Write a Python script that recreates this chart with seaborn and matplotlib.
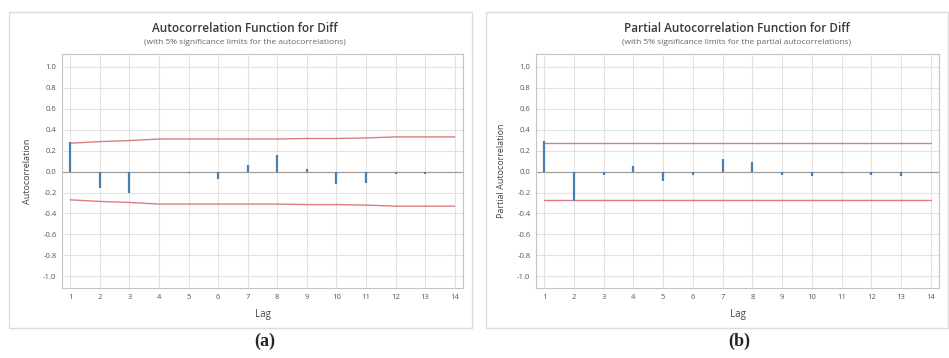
import numpy as np
import pandas as pd
import matplotlib.pyplot as plt
import seaborn as sns
from matplotlib.patches import Rectangle

# data
lags = list(range(1, 14))
acf_vals = [0.28, -0.16, -0.20, -0.005, -0.01, -0.07, 0.06, 0.16, 0.02, -0.12, -0.11, -0.02, -0.02]
pacf_vals = [0.29, -0.28, -0.03, 0.05, -0.09, -0.03, 0.12, 0.09, -0.03, -0.04, -0.01, -0.03, -0.04]
limit_lags = list(range(1, 15))
acf_limits = [0.27, 0.285, 0.295, 0.31, 0.31, 0.31, 0.31, 0.31, 0.315, 0.315, 0.32, 0.33, 0.33, 0.33]
pacf_limits = [0.27] * 14
ytick_vals = [1.0, 0.8, 0.6, 0.4, 0.2, 0.0, -0.2, -0.4, -0.6, -0.8, -1.0]

titles = ["Autocorrelation Function for Diff", "Partial Autocorrelation Function for Diff"]
subtitles = ["(with 5% significance limits for the autocorrelations)",
             "(with 5% significance limits for the partial autocorrelations)"]
ylabels = ["Autocorrelation", "Partial Autocorrelation"]
captions = ["(a)", "(b)"]

sns.set_theme(style="whitegrid")
plt.rcParams["font.family"] = ["Open Sans", "DejaVu Sans"]

fig = plt.figure(figsize=(9.49, 3.58), dpi=100)

W, H = 949, 358


def px_axes(x0, y0, x1, y1):
    return fig.add_axes([x0 / W, 1 - y1 / H, (x1 - x0) / W, (y1 - y0) / H])


# panel frames
for fx0, fx1 in [(9, 472), (486, 948)]:
    fig.add_artist(Rectangle((fx0 / W, 1 - 328 / H), (fx1 - fx0) / W, (328 - 12) / H,
                             transform=fig.transFigure, fill=False,
                             edgecolor="#dcdcdc", linewidth=1.0))

panels = [
    (px_axes(62, 54, 463, 288), acf_vals, acf_limits, 245),
    (px_axes(536, 54, 939, 288), pacf_vals, pacf_limits, 737),
]

for i, (ax, vals, lims, cx) in enumerate(panels):
    lim_df = pd.DataFrame({"Lag": limit_lags, "Upper": lims,
                           "Lower": [-v for v in lims]})
    sns.lineplot(data=lim_df, x="Lag", y="Upper", color="#dc7c7e", linewidth=1.0, ax=ax, zorder=2.5)
    sns.lineplot(data=lim_df, x="Lag", y="Lower", color="#dc7c7e", linewidth=1.0, ax=ax, zorder=2.5)
    ax.axhline(0, color="#a0a0a0", linewidth=0.9, zorder=2)
    # spikes
    ax.vlines(lags, 0, vals, color="#4b7fae", linewidth=1.6, zorder=3)

    ax.set_xlim(0.72, 14.28)
    ax.set_ylim(-1.11, 1.12)
    ax.set_xticks(limit_lags)
    ax.set_yticks(ytick_vals)
    ax.set_yticklabels([f"{v:.1f}" for v in ytick_vals])
    ax.tick_params(axis="both", labelsize=5.5, colors="#555555", length=2, width=0.5, pad=2)
    ax.grid(True, color="#e2e2e2", linewidth=0.8)
    for sp in ax.spines.values():
        sp.set_edgecolor("#c4c4c4")
        sp.set_linewidth(0.8)
    ax.set_xlabel("Lag", fontsize=7, color="#444444", labelpad=6)
    ax.set_ylabel(ylabels[i], fontsize=6.5, color="#444444", labelpad=8)

    fig.text(cx / W, 1 - 29 / H, titles[i], ha="center", va="center",
             fontsize=8.5, color="#3a3a3a", fontweight="semibold")
    fig.text(cx / W, 1 - 43 / H, subtitles[i], ha="center", va="center",
             fontsize=6, color="#666666")

fig.text(265 / W, 1 - 341 / H, captions[0], ha="center", va="center",
         fontsize=13, fontweight="bold", family=["Liberation Serif", "DejaVu Serif"])
fig.text(739 / W, 1 - 341 / H, captions[1], ha="center", va="center",
         fontsize=13, fontweight="bold", family=["Liberation Serif", "DejaVu Serif"])

fig.savefig("out.png", dpi=100)
